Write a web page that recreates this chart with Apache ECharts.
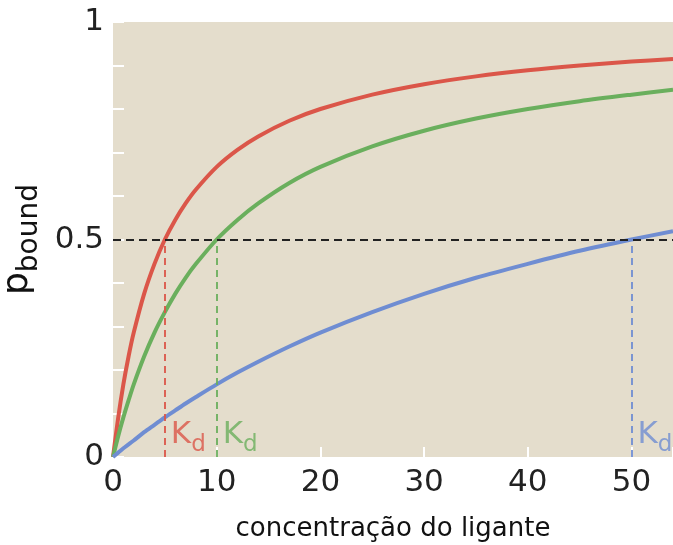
<!DOCTYPE html>
<html>
<head>
<meta charset="utf-8">
<script src="https://cdn.jsdelivr.net/npm/echarts@6/dist/echarts.min.js"></script>
<style>
  html, body { margin: 0; padding: 0; background: #ffffff; }
  #chart { width: 673px; height: 545px; }
</style>
</head>
<body>
<div id="chart"></div>
<script>
// Ligand concentration samples (x) and bound fraction for three receptors
const concentration = [0, 0.5, 1, 1.5, 2, 3, 4, 5, 6, 7, 8, 10, 12, 14, 17, 20, 25, 30, 35, 40, 45, 50, 54];
const pBoundStrong = [0, 0.09, 0.167, 0.231, 0.286, 0.375, 0.444, 0.5, 0.545, 0.583, 0.615, 0.667, 0.706, 0.737, 0.773, 0.8, 0.833, 0.857, 0.875, 0.889, 0.9, 0.909, 0.915];
const pBoundMedium = [0, 0.048, 0.091, 0.13, 0.167, 0.231, 0.286, 0.333, 0.375, 0.412, 0.444, 0.5, 0.545, 0.583, 0.63, 0.667, 0.714, 0.75, 0.778, 0.8, 0.818, 0.833, 0.844];
const pBoundWeak = [0, 0.01, 0.02, 0.029, 0.038, 0.057, 0.074, 0.091, 0.107, 0.123, 0.138, 0.167, 0.194, 0.219, 0.254, 0.286, 0.333, 0.375, 0.412, 0.444, 0.474, 0.5, 0.519];
// Dissociation constants (where each curve crosses one half)
const kdValues = [5, 10, 50];
const halfBound = 0.5;
const xTickLabels = ['0', '10', '20', '30', '40', '50'];
const yTickLabels = ['0', '0.5', '1'];

const colors = ['#db5649', '#6aaf5d', '#6f8dd2'];
const curves = [pBoundStrong, pBoundMedium, pBoundWeak];
const FONT = 'DejaVu Sans';

function pairs(xs, ys) { return xs.map((x, i) => [x, ys[i]]); }

const curveSeries = curves.map((ys, i) => ({
  type: 'line',
  data: pairs(concentration, ys),
  smooth: 0.3,
  showSymbol: false,
  symbol: 'none',
  z: 3,
  lineStyle: { color: colors[i], width: 4 },
  markLine: {
    silent: true,
    symbol: 'none',
    label: { show: false },
    lineStyle: { color: colors[i], type: [7, 5], width: 1.8 },
    data: [[{ coord: [kdValues[i], 0] }, { coord: [kdValues[i], halfBound] }]]
  }
}));

const halfLine = {
  type: 'line',
  data: [],
  z: 5,
  markLine: {
    silent: true,
    symbol: 'none',
    label: { show: false },
    lineStyle: { color: '#222222', type: [8, 5], width: 2 },
    data: [[{ coord: [0, halfBound] }, { coord: [54, halfBound] }]]
  }
};

const kdLabels = {
  type: 'scatter',
  symbolSize: 0,
  z: 6,
  data: kdValues.map((k, i) => ({
    value: [k, 0],
    label: { color: colors[i] }
  })),
  label: {
    show: true,
    position: [6, -38],
    align: 'left',
    verticalAlign: 'top',
    formatter: '{k|K}{d|d}',
    rich: {
      k: { fontFamily: FONT, fontSize: 31, lineHeight: 31, verticalAlign: 'top' },
      d: { fontFamily: FONT, fontSize: 23, lineHeight: 23, verticalAlign: 'top', padding: [15, 0, 0, 0] }
    }
  }
};

const chart = echarts.init(document.getElementById('chart'), null, { renderer: 'canvas' });
chart.setOption({
  animation: false,
  backgroundColor: '#ffffff',
  grid: {
    left: 113, right: 0, top: 22, bottom: 88,
    outerBoundsMode: 'none',
    containLabel: false,
    show: true, backgroundColor: '#e4ddcc', borderWidth: 0
  },
  xAxis: {
    type: 'value',
    min: 0, max: 54, interval: 10,
    name: 'concentração do ligante',
    nameLocation: 'middle',
    nameGap: 59,
    nameTextStyle: { fontFamily: FONT, fontSize: 26, color: '#111' },
    axisLine: { show: false },
    axisTick: { show: true, inside: true, length: 10, lineStyle: { color: '#ffffff', width: 2 } },
    splitLine: { show: false },
    axisLabel: {
      margin: 10, fontFamily: FONT, fontSize: 31, color: '#222',
      formatter: v => xTickLabels.includes(String(v)) ? String(v) : ''
    }
  },
  yAxis: {
    type: 'value',
    min: 0, max: 1, interval: 0.1,
    name: '{p|p}{b|bound}',
    nameLocation: 'middle',
    nameRotate: 90,
    nameGap: 75,
    nameTextStyle: {
      color: '#111',
      rich: {
        p: { fontFamily: FONT, fontSize: 36, lineHeight: 36, verticalAlign: 'top' },
        b: { fontFamily: FONT, fontSize: 28, lineHeight: 28, verticalAlign: 'top', padding: [16, 0, 0, 0] }
      }
    },
    axisLine: { show: false },
    axisTick: { show: true, inside: true, length: 11, lineStyle: { color: '#ffffff', width: 2 } },
    splitLine: { show: false },
    axisLabel: {
      margin: 9, fontFamily: FONT, fontSize: 31, color: '#222',
      formatter: v => {
        const s = String(Math.round(v * 10) / 10);
        return yTickLabels.includes(s) ? s : '';
      }
    }
  },
  series: [...curveSeries, halfLine, kdLabels]
});
</script>
</body>
</html>
